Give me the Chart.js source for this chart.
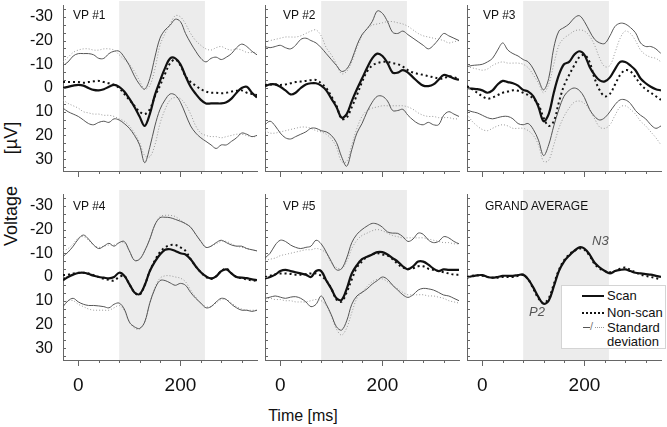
<!DOCTYPE html>
<html>
<head>
<meta charset="utf-8">
<script src="https://cdn.jsdelivr.net/npm/chart.js@4"></script>
<style>
    body {
        margin: 0;
        width: 667px;
        height: 427px;
        overflow: hidden;
        position: relative;
        background: #fff;
        font-family: 'Liberation Sans', Arial, sans-serif;
        color: #111;
    }
    canvas {
        position: absolute;
    }
    .txt {
        position: absolute;
        white-space: nowrap;
        line-height: 1;
    }
    .rot {
        position: absolute;
        white-space: nowrap;
        line-height: 1;
        font-size: 18px;
        transform: translate(-50%, -50%) rotate(-90deg);
    }
    .panel-label {
        position: absolute;
        font-size: 12px;
        white-space: nowrap;
        line-height: 1;
        z-index: 5;
    }
    .peak {
        position: absolute;
        font-size: 13px;
        font-style: italic;
        color: #555;
        line-height: 1;
        z-index: 5;
    }
    #legend {
        position: absolute;
        left: 561px;
        top: 285px;
        width: 105px;
        height: 64px;
        background: #fff;
        border: 1px solid #d4d4d4;
        box-sizing: border-box;
        font-size: 13px;
        z-index: 6;
    }
    #legend div {
        position: absolute;
        white-space: nowrap;
        line-height: 1;
    }
</style>
</head>
<body>

<div class="rot" style="left: 11px; top: 138px">[µV]</div>
<div class="rot" style="left: 11px; top: 216px">Voltage</div>
<div class="txt" style="left: 303px; top: 416px; font-size: 16px; transform: translate(-50%, -50%)">Time [ms]</div>

<div class="peak" style="left: 529px; top: 305px">P2</div>
<div class="peak" style="left: 592px; top: 234px">N3</div>

<div id="legend">
    <div style="left: 20px; top: 9px; width: 22px; border-top: 2px solid #111"></div>
    <div style="left: 45px; top: 3px">Scan</div>
    <div style="left: 20px; top: 26px; width: 22px; border-top: 2px dotted #111"></div>
    <div style="left: 45px; top: 20px">Non-scan</div>
    <div style="left: 21px; top: 41px; width: 7px; border-top: 1px solid #555"></div>
    <div style="left: 28px; top: 35px; font-size: 11px; color: #777">/</div>
    <div style="left: 33px; top: 41px; width: 9px; border-top: 1px dotted #999"></div>
    <div style="left: 45px; top: 35px">Standard</div>
    <div style="left: 45px; top: 49px">deviation</div>
</div>

<script>
// time axis (ms)
const timeMs = [-30, -20, -10, 0, 10, 20, 30, 40, 50, 60, 70, 80, 90, 100, 110, 120, 130, 140, 150, 160,
    170, 180, 190, 200, 210, 220, 230, 240, 250, 260, 270, 280, 290, 300, 310, 320, 330, 340, 350];

// shaded analysis window (ms)
const shadeStart = 80;
const shadeEnd = 248;

const xTickMarks = [0, 40, 80, 120, 160, 200, 240, 280, 320];
const xTickLabels = [0, 200];
const yTickMarks = [-33.33, -30, -26.67, -23.33, -20, -16.67, -13.33, -10, -6.67, -3.33, 0,
    3.33, 6.67, 10, 13.33, 16.67, 20, 23.33, 26.67, 30, 33.33];
const yTickLabels = [-30, -20, -10, 0, 10, 20, 30];

// VP #1
const vp1Scan = [0, -0.5, -1, -1.3, -1, 0, 0.8, 1, 0.5, -0.5, -1.3, -0.5, 1.5, 4.5, 8, 12, 16, 11, 3, -3,
    -8.5, -12.5, -12.5, -10, -5, -0.5, 2.5, 5, 6.5, 6.5, 6.5, 6.5, 6, 4.5, 2, 0, -0.5, 2, 4];
const vp1Non = [-2.5, -2.5, -2.5, -2.5, -2.2, -2.5, -2.8, -3, -2.5, -2, -1.3, 0, 2.5, 5, 7.5, 10, 11, 9, 3.5, -1,
    -6, -10.5, -12, -9.5, -5, -2.5, -1, 0.5, 1.5, 2, 2, 2.2, 2, 1.5, 1.2, 1, 2, 2.5, 3];
const vp1ScanUp = [-9.5, -11, -13.5, -14.5, -14.5, -14.5, -14, -12.5, -12.5, -14.5, -15.5, -15.5, -13, -9.5, -5, -1.5, 0.5, -4, -13, -21,
    -24.5, -26.5, -29, -28, -23, -19, -15.5, -12.5, -11, -12.5, -13, -12, -13, -14.5, -17, -18.5, -17.5, -15.5, -14];
const vp1ScanLo = [8.5, 10, 11, 12, 13.5, 15, 15.5, 14.5, 14, 14.5, 13, 13.5, 15, 17, 20, 24, 31.5, 25, 16, 9,
    5, 2.5, 3, 6, 11, 16, 19, 21, 22.5, 24, 25.5, 24, 24, 22.5, 21, 19, 19.5, 20.5, 20];
const vp1NonUp = [-11, -13, -15, -16, -16.5, -16.5, -16, -16, -16.5, -16.5, -16, -14, -12, -10, -7, -3, 0.5, -1, -8, -18,
    -23, -27, -30.5, -30, -27, -23, -20, -18, -16.5, -16, -17, -17.5, -16.5, -16, -16.5, -16, -15, -15, -15];
const vp1NonLo = [5, 6.5, 7.5, 8.5, 10, 10.5, 11, 11, 11.5, 11.5, 12, 13, 14, 16, 19, 23, 28.5, 29, 24, 15,
    9, 5, 4, 4.5, 7, 11, 16, 19, 20, 20.5, 20.5, 21, 20.5, 20, 19.5, 19.5, 20, 20.5, 20.5];

// VP #2
const vp2Scan = [-0.8, -1.5, -1.5, -0.5, 1, 2.7, 2, 0, -1.5, -2, -2, -1, 1, 4.5, 8, 12.5, 11, 5.5, 0.5, -4,
    -8.5, -12.5, -14.5, -13.5, -10.5, -6.5, -6.5, -7.5, -6.5, -4.5, -2.5, -1, -0.8, -1.5, -3.5, -5.5, -5, -4, -3.5];
const vp2Non = [-1.3, -1.5, -1.5, -1.3, -1.5, -2, -2.5, -2.7, -3, -3.3, -3.4, -2, 0, 3.5, 7.5, 13, 12.5, 8, 3, -2.5,
    -7, -9.5, -10.5, -11, -11, -10.5, -10, -9, -7.5, -6.5, -6, -5.5, -5, -4.5, -4, -4, -5, -4.5, -4];
const vp2ScanUp = [-17.5, -17, -17.5, -18, -17, -16.5, -18, -20.5, -21, -20, -19, -17, -14.5, -12, -9.5, -7, -8, -12, -18, -22.5,
    -25, -28, -32.5, -31.5, -28, -23.5, -23, -24, -22.5, -21, -19.5, -18, -16.5, -18, -20.5, -23, -22, -21, -20];
const vp2ScanLo = [15.5, 14, 16, 19, 21, 21.5, 20.5, 19.5, 18.5, 17, 17, 18, 18.5, 20, 23, 29, 33, 26, 19, 15,
    10, 6, 3.5, 3.5, 5.5, 9.5, 9.5, 9, 11.5, 13.5, 15, 15.5, 14.5, 15.5, 15.5, 11.5, 10, 11, 12];
const vp2NonUp = [-19.5, -20, -20.5, -21, -21.5, -21.5, -21.5, -22, -23, -24, -24.5, -22, -17, -14, -10, -6, -7, -11, -17, -22,
    -25, -26.5, -27, -27.5, -28, -28, -27.5, -27, -26, -24.5, -23, -22, -21.5, -21, -20.5, -20, -19, -19.5, -20];
const vp2NonLo = [18, 19, 19, 18.5, 18, 17.5, 17, 16.5, 16.5, 17, 18, 18.5, 19.5, 21.5, 25, 31, 31, 24, 17, 12,
    9.5, 8.5, 8, 7.5, 7.5, 7.5, 7.5, 7.5, 8, 9, 10.5, 11.5, 12, 12, 12.5, 12.5, 12.5, 13, 13];

// VP #3
const vp3Scan = [0, 0.3, 0.5, 1, 2, 1, -1.5, -3, -2.5, -2, -1, 0.8, 1.5, 3.5, 8, 14, 11, 2, -5.5, -10,
    -11, -14, -15.5, -14, -9, -5.5, -3.2, -2.8, -4.5, -8, -11, -11, -9.5, -7.5, -4, -2, -0.5, 0.5, 1];
const vp3Non = [-0.8, 0.5, 2, 3.5, 4.5, 4, 3, 2, 1.5, 1, 1.2, 2, 3, 4.5, 7, 12.5, 16, 14, 6, -1,
    -5.5, -9.5, -13, -14, -11, -4, 1, 3.5, 2.5, -1.5, -5.5, -7.5, -7, -4.5, -1.5, 0.5, 2, 3.5, 5];
const vp3ScanUp = [-9, -9.5, -9.7, -10, -11, -12.5, -16, -19, -16, -14.5, -13.5, -12, -11, -8, -3.5, 0.8, -4, -17, -24, -25.5,
    -27, -29.5, -30.5, -28, -24, -20.5, -19, -18.8, -22, -26, -27.3, -27, -25.5, -23.3, -19, -17.5, -17.5, -16.5, -14.5];
const vp3ScanLo = [9.3, 10, 10.5, 11.5, 12.5, 13, 12.5, 12, 12, 13, 15, 15.5, 15, 17.5, 22, 28.5, 24, 16, 9, 3.5,
    1, 0, 1, 4, 9, 12, 13.5, 12.5, 10, 7, 5, 5, 6.5, 9.5, 11.5, 13, 15.5, 17, 16];
const vp3NonUp = [-9, -8.5, -8, -7.5, -8, -9.5, -10.5, -11, -10.5, -10.5, -10.5, -10, -8.5, -5.5, -2, 2, -1.5, -10, -18, -21,
    -22.5, -24, -24.5, -24, -22, -18, -12.5, -9, -9.5, -15, -21, -24, -23, -20, -16, -14, -13, -12.5, -11];
const vp3NonLo = [11, 14, 16, 17.5, 18, 17, 16, 15.5, 16, 17, 17, 17, 18, 20, 24, 31, 30.5, 24, 17, 12,
    8.5, 6, 5.5, 6.5, 9, 13, 16.5, 17, 15.5, 11.5, 8, 7.5, 9, 11, 14, 16, 18.5, 21, 24];

// VP #4
const vp4Scan = [1.3, 0, -1, -1.7, -1.8, -1.3, -0.5, 0, 0.3, 0.6, 0, -1.8, -0.5, 3, 6.5, 7.2, 3.5, -2.5, -6.5, -9.5,
    -11.5, -11.7, -11, -10, -9.5, -7.5, -4.5, -2, -0.3, 0.6, -0.3, -2.5, -3.2, -1.5, 0, 0.3, 0.5, 1, 1.3];
const vp4Non = [-0.8, -1, -1.5, -1.8, -1.8, -1.5, -0.8, 0, 0.8, 1.2, 1.5, 0, -0.5, 3, 6.5, 7.5, 3.5, -2.5, -7, -10.5,
    -12.5, -13.5, -13.5, -12.5, -11, -7.5, -4.5, -2, 0, 0.8, -0.3, -2.5, -3.5, -1.5, 0, 0.5, 1, 1.5, 1.5];
const vp4ScanUp = [-8.6, -10.5, -13, -16, -17.7, -16, -13.5, -12, -13, -14.2, -13, -14.5, -15, -11, -7, -7.5, -11, -16, -22, -25,
    -25.2, -25, -24.3, -23.5, -22.5, -21, -18, -15, -12.5, -13, -14.5, -15.5, -14.5, -13.5, -13, -13, -12, -11.5, -11];
const vp4ScanLo = [12.5, 10, 9, 10.5, 11.5, 12, 12, 12.2, 12.5, 13, 11.5, 11, 13.5, 19, 21, 21.7, 19, 11, 5, 1.5,
    1.5, 2.5, 3.5, 2.7, 3.5, 6.5, 9, 11, 13, 12.5, 10.5, 9, 9.5, 11.5, 13, 14, 14, 14.5, 14];
const vp4NonUp = [-11, -12, -14, -16.5, -17, -15.5, -13.5, -12.5, -13, -13.5, -13.5, -14.5, -14.5, -11, -7, -7.5, -11, -16, -22, -25.5,
    -26, -26, -25.5, -24, -22.5, -21, -18, -15, -12.5, -13, -14, -15, -15, -14, -13, -12.5, -12, -11.5, -11];
const vp4NonLo = [11, 10, 10, 11.5, 12.5, 13.5, 14, 14, 14, 14, 13, 12, 14, 19, 21.5, 22, 19, 11, 4.5, 0.5,
    -0.5, -0.5, 0, 0.5, 2, 5.5, 8.5, 11, 12.5, 12.5, 11, 9.5, 9.5, 11, 12.5, 13.5, 14, 14, 14];

// VP #5
const vp5Scan = [0.6, 0, -1, -2.5, -3, -2.5, -2, -1.5, -1, 0, -2.5, -2.5, 1.5, 5, 9, 9.7, 5, -1.5, -5, -7.5,
    -8.5, -9.5, -10.5, -10.5, -9.5, -8, -6.5, -4.5, -3.2, -4.5, -6.5, -6.5, -5.2, -3.5, -2.5, -3.2, -3, -3, -3];
const vp5Non = [0, -0.5, -1.2, -1.5, -1.5, -1.3, -1, -1, -1.2, -1.5, -1.5, -0.5, 1.5, 5, 9.5, 10.4, 6.5, 1, -4, -6.5,
    -8.5, -9.5, -10, -9.5, -9, -7.5, -5.5, -4, -3.5, -3.7, -4.5, -4.5, -3.5, -3, -2.5, -2, -1.5, -1, -1];
const vp5ScanUp = [-8, -10, -13.5, -15.5, -15, -13.5, -12.5, -12, -12.5, -13, -15.5, -14, -10.5, -6.5, -3, -3.5, -8, -14.5, -18, -20,
    -21.5, -22.6, -22.3, -21, -19, -18.5, -18.4, -17, -15, -16, -18.5, -18, -15.6, -14.5, -15, -17, -16.5, -15, -14];
const vp5ScanLo = [9, 8.5, 8, 8.5, 9, 8.5, 8.3, 9, 10.5, 12.5, 11.5, 8, 11.5, 16, 21, 22.4, 18.5, 11.5, 8, 6.5,
    5, 3, 1.5, 0, 1, 3.5, 5.5, 7.5, 8.6, 7.5, 5.5, 4.8, 5, 5.5, 6.5, 7.6, 8, 9, 10];
const vp5NonUp = [-7, -7.5, -8, -9, -9.5, -10, -10.5, -11, -11.5, -11.5, -12, -11.5, -10, -6, -4, -3.5, -6.5, -12, -15.5, -17.5,
    -18.5, -19.5, -20, -19.5, -18.5, -17.5, -17, -16.5, -16.5, -16.5, -16.5, -16.5, -16, -15.5, -15, -14.5, -14.5, -14, -14];
const vp5NonLo = [9, 9, 9.5, 9.5, 10, 10, 10.5, 10.5, 10.5, 10, 9.5, 10, 12, 16.5, 22, 24.5, 21.5, 15, 9, 6.5,
    4, 2, 1, 0.8, 2, 3.5, 5, 6.5, 7.5, 7.5, 7.5, 7.5, 8, 8, 8.5, 9, 10, 10.5, 11];

// grand average
const gaScan = [0.2, -0.3, -0.7, -0.8, 0, 0.3, 0, -0.5, -0.5, -0.5, -0.8, -1, 1, 4.5, 8.5, 11.3, 10, 4, -2.5, -6.5,
    -9, -11, -12.5, -12, -9.5, -6, -4, -2.5, -1.5, -2.5, -3, -3.2, -2.5, -1.8, -1.5, -1.2, -1, -0.5, 0];
const gaNon = [0, -0.5, -0.7, -0.5, 0, 0.3, 0.3, 0, 0, 0, -0.5, -0.8, 1, 5, 9, 11, 9, 3, -3, -7,
    -9.5, -11, -12, -11.5, -9, -5.5, -3.5, -2.5, -2, -2.5, -3.5, -4, -3, -2, -1, -0.5, 0, 0.5, 1];

// layout
const plotLefts = [63, 265, 467];
const plotTops = [5, 194];
const plotW = 194;
const plotH = 166;
const axisW = 60;
const axisH = 40;
const padTop = 5;
const padRight = 6;
const axisColor = '#666';
const shadeColor = '#ececec';

const panels = [
    { label: 'VP #1', labelX: 73, col: 0, row: 0, scan: vp1Scan, non: vp1Non, scanUp: vp1ScanUp, scanLo: vp1ScanLo, nonUp: vp1NonUp, nonLo: vp1NonLo },
    { label: 'VP #2', labelX: 283, col: 1, row: 0, scan: vp2Scan, non: vp2Non, scanUp: vp2ScanUp, scanLo: vp2ScanLo, nonUp: vp2NonUp, nonLo: vp2NonLo },
    { label: 'VP #3', labelX: 483, col: 2, row: 0, scan: vp3Scan, non: vp3Non, scanUp: vp3ScanUp, scanLo: vp3ScanLo, nonUp: vp3NonUp, nonLo: vp3NonLo },
    { label: 'VP #4', labelX: 73, col: 0, row: 1, scan: vp4Scan, non: vp4Non, scanUp: vp4ScanUp, scanLo: vp4ScanLo, nonUp: vp4NonUp, nonLo: vp4NonLo },
    { label: 'VP #5', labelX: 283, col: 1, row: 1, scan: vp5Scan, non: vp5Non, scanUp: vp5ScanUp, scanLo: vp5ScanLo, nonUp: vp5NonUp, nonLo: vp5NonLo },
    { label: 'GRAND AVERAGE', labelX: 485, col: 2, row: 1, scan: gaScan, non: gaNon },
];

Chart.defaults.font.family = "'Liberation Sans', Arial, sans-serif";
Chart.defaults.color = '#111';

// grey window behind the curves
const shadePlugin = {
    id: 'shade',
    beforeDraw(chart) {
        const ctx = chart.ctx;
        const area = chart.chartArea;
        const x = chart.scales.x;
        const x0 = x.getPixelForValue(shadeStart);
        const x1 = x.getPixelForValue(shadeEnd);
        ctx.save();
        ctx.fillStyle = shadeColor;
        ctx.fillRect(x0, area.top - 4, x1 - x0, area.bottom - area.top + 4);
        ctx.restore();
    },
};

// small tick marks: inside on y, outside on x
const tickMarkPlugin = {
    id: 'tickMarks',
    afterDraw(chart) {
        const ctx = chart.ctx;
        const xs = chart.scales.x;
        const ys = chart.scales.y;
        ctx.save();
        ctx.strokeStyle = axisColor;
        ctx.lineWidth = 1;
        ctx.beginPath();
        ys.ticks.forEach((t) => {
            const py = Math.round(ys.getPixelForValue(t.value)) + 0.5;
            ctx.moveTo(ys.right, py);
            ctx.lineTo(ys.right + 3, py);
        });
        xs.ticks.forEach((t) => {
            const px = Math.round(xs.getPixelForValue(t.value)) + 0.5;
            const len = xTickLabels.includes(t.value) ? 6 : 3;
            ctx.moveTo(px, xs.top);
            ctx.lineTo(px, xs.top + len);
        });
        ctx.stroke();
        ctx.restore();
    },
};

function lineSet(vals, color, width, dash, order) {
    return {
        data: timeMs.map((t, i) => ({ x: t, y: vals[i] })),
        borderColor: color,
        borderWidth: width,
        borderDash: dash,
        pointRadius: 0,
        tension: 0.35,
        fill: false,
        order: order,
    };
}

panels.forEach((p) => {
    const left = plotLefts[p.col] - axisW;
    const top = plotTops[p.row] - padTop;
    const cv = document.createElement('canvas');
    cv.width = axisW + plotW + padRight;
    cv.height = padTop + plotH + axisH;
    cv.style.left = left + 'px';
    cv.style.top = top + 'px';
    document.body.insertBefore(cv, document.getElementById('legend'));

    const lbl = document.createElement('div');
    lbl.className = 'panel-label';
    lbl.textContent = p.label;
    lbl.style.left = p.labelX + 'px';
    lbl.style.top = plotTops[p.row] + (p.row === 0 ? 4 : 6) + 'px';
    document.body.appendChild(lbl);

    const datasets = [];
    datasets.push(lineSet(p.scan, '#111', 2.2, [], 0));
    datasets.push(lineSet(p.non, '#111', 2, [2, 3], 1));
    if (p.scanUp) {
        datasets.push(lineSet(p.scanUp, '#555', 1, [], 2));
        datasets.push(lineSet(p.scanLo, '#555', 1, [], 3));
        datasets.push(lineSet(p.nonUp, '#999', 1, [1, 2], 4));
        datasets.push(lineSet(p.nonLo, '#999', 1, [1, 2], 5));
    }

    const showY = p.col === 0;
    const showX = p.row === 1;

    new Chart(cv, {
        type: 'line',
        data: { datasets: datasets },
        plugins: [shadePlugin, tickMarkPlugin],
        options: {
            responsive: false,
            animation: false,
            layout: { padding: { top: padTop, right: padRight, left: 0, bottom: 0 } },
            plugins: { legend: { display: false }, tooltip: { enabled: false } },
            scales: {
                x: {
                    type: 'linear',
                    min: -30,
                    max: 350,
                    grid: { display: false, drawTicks: false },
                    border: { color: axisColor, width: 1 },
                    afterBuildTicks: (s) => {
                        s.ticks = xTickMarks.map((v) => ({ value: v }));
                    },
                    afterFit: (s) => {
                        s.height = axisH;
                        s.paddingLeft = 0;
                        s.paddingRight = 0;
                    },
                    ticks: {
                        display: showX,
                        autoSkip: false,
                        maxRotation: 0,
                        padding: 14,
                        font: { size: 19 },
                        callback: (v) => (xTickLabels.includes(v) ? String(v) : ''),
                    },
                },
                y: {
                    type: 'linear',
                    reverse: true,
                    min: -35,
                    max: 35,
                    grid: { display: false, drawTicks: false },
                    border: { color: axisColor, width: 1 },
                    afterBuildTicks: (s) => {
                        s.ticks = yTickMarks.map((v) => ({ value: v }));
                    },
                    afterFit: (s) => {
                        s.width = axisW;
                        s.paddingTop = 0;
                        s.paddingBottom = 0;
                    },
                    ticks: {
                        display: showY,
                        autoSkip: false,
                        padding: 10,
                        font: { size: 16 },
                        callback: (v) => (yTickLabels.includes(v) ? String(v) : ''),
                    },
                },
            },
        },
    });
});
</script>
</body>
</html>
